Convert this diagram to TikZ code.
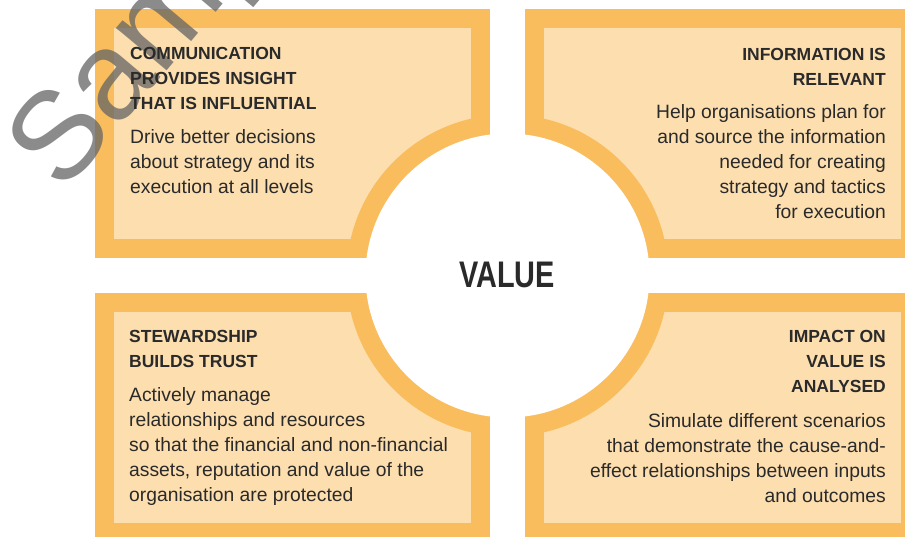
\documentclass[tikz,border=0pt]{standalone}
\usepackage{fontspec}
\setmainfont{Liberation Sans}
\newfontfamily\condfont{Liberation Sans}[FakeStretch=0.78]
\definecolor{ringorange}{HTML}{F9BD5E}
\definecolor{boxfill}{HTML}{FDDEAF}
\definecolor{inktext}{HTML}{2A2A2A}
\definecolor{wmgray}{RGB}{100,100,100}
\tikzset{
  qtitle/.style={inner sep=0pt, text=inktext, font=\bfseries\fontsize{17.5}{25}\selectfont},
  qtext/.style={inner sep=0pt, text=inktext, font=\fontsize{19.3}{25}\selectfont},
  wmark/.style={inner sep=0pt, text=wmgray, text opacity=0.75, font=\fontsize{125}{130}\selectfont},
}
\begin{document}
\begin{tikzpicture}[x=1pt,y=-1pt]
    \useasboundingbox (0,0) rectangle (905,536);
    \clip (0,0) rectangle (905,536);
    \coordinate (C) at (507.5,275.5);
    % quadrant boxes
    \foreach \x/\y in {95/9,525/9,95/293,525/293}{
      \fill[ringorange] (\x,\y) rectangle ++(395,249);
      \fill[boxfill] (\x+19,\y+19) rectangle ++(357,211);
    }
    % ring round the middle
    \fill[ringorange] (C) circle(161pt);
    \fill[white] (490,0) rectangle (525,536);
    \fill[white] (0,258) rectangle (905,293);
    \fill[white] (C) circle(142pt);
    \node[font=\condfont\bfseries\fontsize{37}{40}\selectfont, text=inktext, inner sep=0pt, anchor=base] (value) at (507,287) {VALUE};
    % watermark
    \node[wmark, rotate=50, anchor=base west] (sample) at (63,195) {Sample};
    % top left
    \node[qtitle, anchor=north west, align=left] (commtitle) at (130,47.5)
      {COMMUNICATION\\PROVIDES INSIGHT\\THAT IS INFLUENTIAL};
    \node[qtext, anchor=north west, align=left] (commtext) at (130,129.2)
      {Drive better decisions\\about strategy and its\\execution at all levels};
    % top right
    \node[qtitle, anchor=north east, align=right] (infotitle) at (886,48.5)
      {INFORMATION IS\\RELEVANT};
    \node[qtext, anchor=north east, align=right] (infotext) at (886,104)
      {Help organisations plan for\\and source the information\\needed for creating\\strategy and tactics\\for execution};
    % bottom left
    \node[qtitle, anchor=north west, align=left] (stewtitle) at (129,330.5)
      {STEWARDSHIP\\BUILDS TRUST};
    \node[qtext, anchor=north west, align=left] (stewtext) at (129,387)
      {Actively manage\\relationships and resources\\so that the financial and non-financial\\assets, reputation and value of the\\organisation are protected};
    % bottom right
    \node[qtitle, anchor=north east, align=right] (imptitle) at (886,330.5)
      {IMPACT ON\\VALUE IS\\ANALYSED};
    \node[qtext, anchor=north east, align=right] (imptext) at (886,413)
      {Simulate different scenarios\\that demonstrate the cause-and-\\effect relationships between inputs\\and outcomes};
  \end{tikzpicture}
\end{document}
